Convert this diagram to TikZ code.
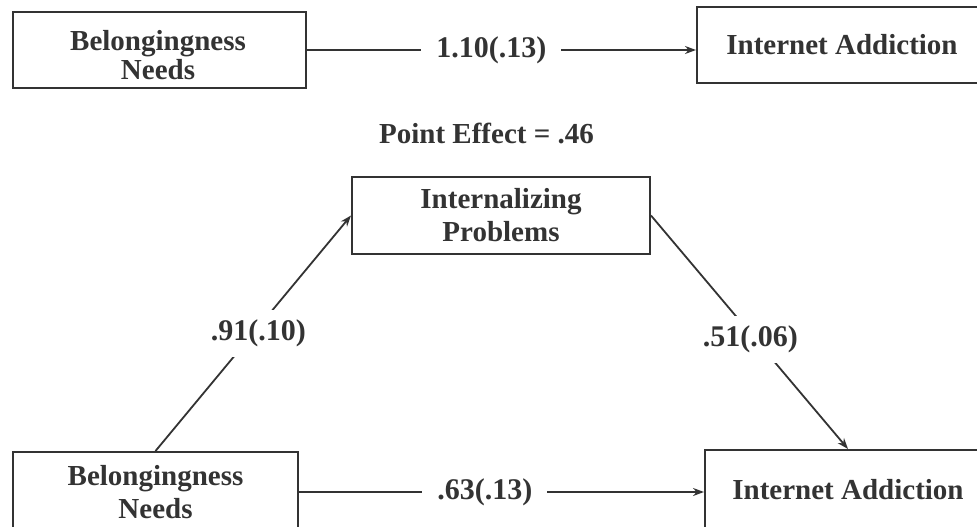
\documentclass[tikz,border=0pt]{standalone}
\usepackage{fontspec}
\setmainfont{Liberation Serif}
\usetikzlibrary{arrows.meta}
\definecolor{ink}{HTML}{333333}
\begin{document}
\begin{tikzpicture}[x=1pt,y=-1pt,
  box/.style={draw=ink, line width=2pt, inner sep=0pt, text=ink,
    font=\fontsize{29}{33}\selectfont\bfseries, align=center},
  boxtext/.style={text=ink, font=\fontsize{29}{29}\selectfont\bfseries, align=center, inner sep=0pt},
  lbl/.style={text=ink, font=\fontsize{30}{34}\selectfont\bfseries},
  gaplbl/.style={lbl, fill=white, inner xsep=15pt, inner ysep=4pt},
  diaglbl/.style={lbl, fill=white, inner xsep=3pt, inner ysep=10pt},
  conn/.style={draw=ink, line width=1.8pt},
  arr/.style={conn, -{Stealth[length=11pt,width=8pt]}},
]
\useasboundingbox (0,0) rectangle (977,527);
\clip (0,0) rectangle (977,527);
% top model
\node[box, minimum width=293pt, minimum height=76pt] (bn1) at (159.5,50) {};
\node[boxtext] (bn1t) at (158,55) {Belongingness\\Needs};
\node[box, minimum width=290pt, minimum height=76pt] (ia1) at (842,45) {Internet Addiction};
\draw[arr] (bn1.east) -- node[gaplbl, pos=0.474] (c1) {1.10(.13)} (bn1.east -| ia1.west);
% point effect
\node[lbl, font=\fontsize{29}{34}\selectfont\bfseries] (pe) at (486.5,133) {Point Effect = .46};
% mediation model
\node[box, minimum width=298pt, minimum height=77pt] (ip) at (501,215.5) {Internalizing\\Problems};
\node[box, minimum width=285pt, minimum height=80pt] (bn2) at (155.5,492) {Belongingness\\Needs};
\node[box, minimum width=286pt, minimum height=80pt] (ia2) at (848,490) {Internet Addiction};
\draw[arr] (bn2.north) -- node[diaglbl, pos=0.5, xshift=5pt] (a) {.91(.10)} (ip.west);
\draw[arr] (ip.east) -- node[diaglbl, pos=0.53, xshift=-5pt] (b) {.51(.06)} (ia2.north);
\draw[arr] (bn2.east) -- node[gaplbl, pos=0.459] (c2) {.63(.13)} (bn2.east -| ia2.west);
\end{tikzpicture}
\end{document}
